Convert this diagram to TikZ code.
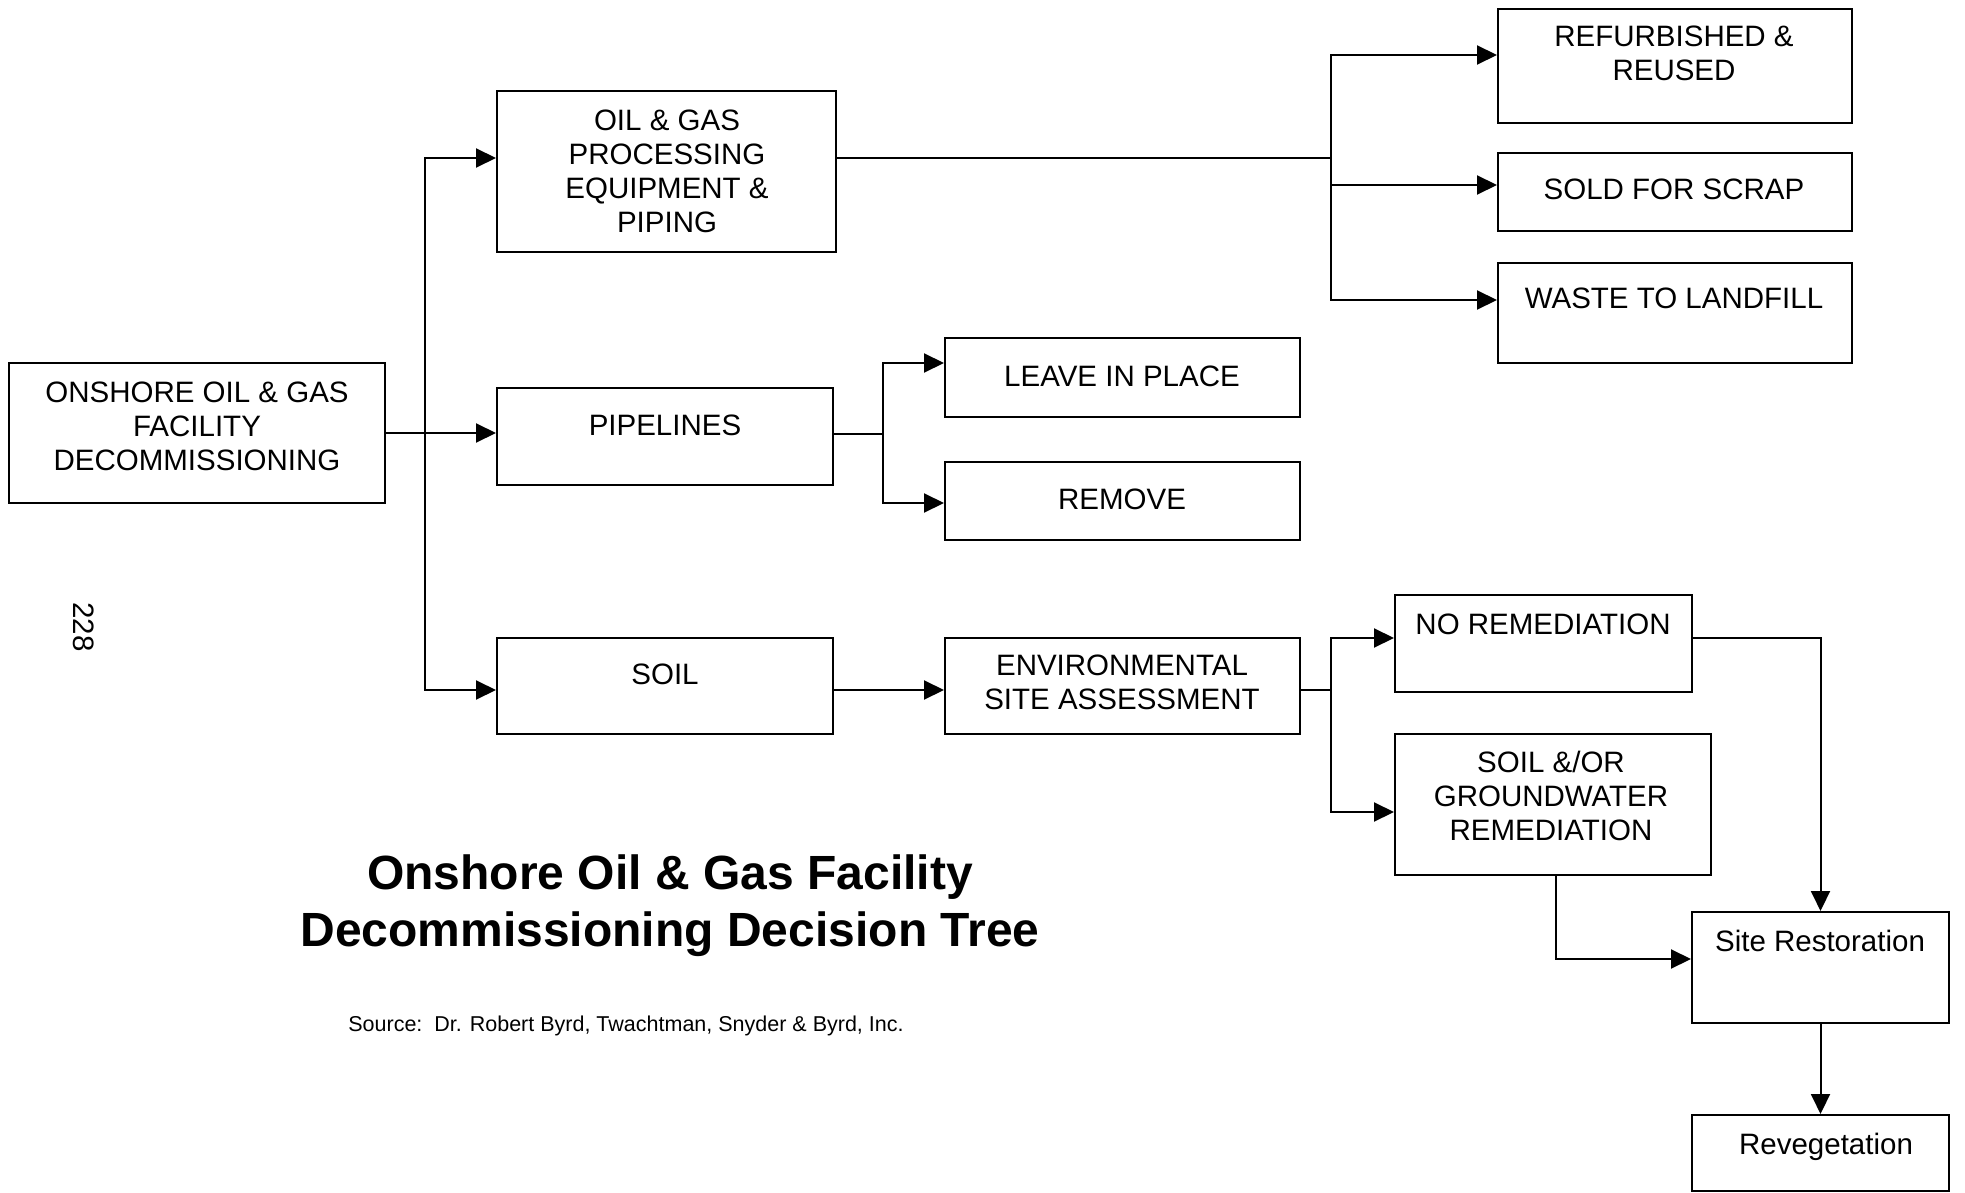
\documentclass[tikz,border=0pt]{standalone}
\usepackage{fontspec}
\setmainfont{Liberation Sans}
\usetikzlibrary{arrows.meta}
\begin{document}
\begin{tikzpicture}[x=1pt,y=-1pt,
  box/.style={draw, line width=2pt, inner sep=0pt},
  txt/.style={font=\fontsize{29.5}{34}\selectfont, align=center, inner sep=0pt},
  line/.style={line width=2pt},
  arr/.style={line width=2pt, -{Triangle[length=20pt,width=19pt]}}]
\useasboundingbox (0,0) rectangle (1965,1193);

% boxes
\node[box, minimum width=376pt, minimum height=140pt] (root) at (197,433) {};
\node[box, minimum width=339pt, minimum height=161pt] (og) at (666.5,171.5) {};
\node[box, minimum width=336pt, minimum height=97pt] (pipe) at (665,436.5) {};
\node[box, minimum width=336pt, minimum height=96pt] (soil) at (665,686) {};
\node[box, minimum width=355pt, minimum height=79pt] (leave) at (1122.5,377.5) {};
\node[box, minimum width=355pt, minimum height=78pt] (remove) at (1122.5,501) {};
\node[box, minimum width=355pt, minimum height=96pt] (esa) at (1122.5,686) {};
\node[box, minimum width=297pt, minimum height=97pt] (norem) at (1543.5,643.5) {};
\node[box, minimum width=316pt, minimum height=141pt] (sgw) at (1553,804.5) {};
\node[box, minimum width=257pt, minimum height=111pt] (site) at (1820.5,967.5) {};
\node[box, minimum width=257pt, minimum height=76pt] (reveg) at (1820.5,1153) {};
\node[box, minimum width=354pt, minimum height=114pt] (refurb) at (1675,66) {};
\node[box, minimum width=354pt, minimum height=78pt] (sold) at (1675,192) {};
\node[box, minimum width=354pt, minimum height=100pt] (waste) at (1675,313) {};

% texts
\node[txt] (root-t) at (197,426) {ONSHORE OIL \& GAS\\FACILITY\\DECOMMISSIONING};
\node[txt] (og-t) at (667,171) {OIL \& GAS\\PROCESSING\\EQUIPMENT \&\\PIPING};
\node[txt] (pipe-t) at (665,425) {PIPELINES};
\node[txt] (soil-t) at (665,674) {SOIL};
\node[txt] (leave-t) at (1122,376) {LEAVE IN PLACE};
\node[txt] (remove-t) at (1122,499) {REMOVE};
\node[txt] (esa-t) at (1122,682) {ENVIRONMENTAL\\SITE ASSESSMENT};
\node[txt] (norem-t) at (1543,624) {NO REMEDIATION};
\node[txt] (sgw-t) at (1551,796) {SOIL \&/OR\\GROUNDWATER\\REMEDIATION};
\node[txt] (site-t) at (1820,941) {Site Restoration};
\node[txt] (reveg-t) at (1826,1147) {Revegetation};
\node[txt] (refurb-t) at (1674,53) {REFURBISHED \&\\REUSED};
\node[txt] (sold-t) at (1674,189) {SOLD FOR SCRAP};
\node[txt] (waste-t) at (1674,298) {WASTE TO LANDFILL};

% junctions
\coordinate (j1) at (425,433);
\coordinate (j2) at (1331,158);
\coordinate (j3) at (883,434);
\coordinate (j4) at (1331,690);

% connectors
\draw[line] (root.east) -- (j1);
\draw[arr] (j1) |- ([yshift=13.5pt]og.west);
\draw[arr] (j1) |- ([yshift=3.5pt]pipe.west);
\draw[arr] (j1) |- ([yshift=-4pt]soil.west);

\draw[line] ([yshift=13.5pt]og.east) -- (j2);
\draw[arr] (j2) |- ([yshift=11pt]refurb.west);
\draw[arr] (j2) |- ([yshift=7pt]sold.west);
\draw[arr] (j2) |- ([yshift=13pt]waste.west);

\draw[line] ([yshift=2.5pt]pipe.east) -- (j3);
\draw[arr] (j3) |- ([yshift=14.5pt]leave.west);
\draw[arr] (j3) |- ([yshift=-2pt]remove.west);

\draw[arr] ([yshift=-4pt]soil.east) -- ([yshift=-4pt]esa.west);

\draw[line] ([yshift=-4pt]esa.east) -- (j4);
\draw[arr] (j4) |- ([yshift=5.5pt]norem.west);
\draw[arr] (j4) |- ([yshift=-7.5pt]sgw.west);

\draw[arr] ([yshift=5.5pt]norem.east) -| (site.north);
\draw[arr] ([xshift=3pt]sgw.south) |- ([yshift=8.5pt]site.west);
\draw[arr] (site.south) -- (reveg.north);

% title and notes
\node[font=\fontsize{48}{57}\selectfont\bfseries, anchor=base, inner sep=0pt] (title1) at (670,889) {Onshore Oil \& Gas Facility};
\node[font=\fontsize{48}{57}\selectfont\bfseries, anchor=base, inner sep=0pt] (title2) at (670,946) {Decommissioning Decision Tree};
\node[font=\fontsize{21.5}{25}\selectfont, anchor=base, inner sep=0pt] (source) at (626,1031) {Source:\ \ Dr. Robert Byrd, Twachtman, Snyder \& Byrd, Inc.};
\node[font=\fontsize{29.5}{34}\selectfont, rotate=-90, inner sep=0pt] (page) at (84,627) {228};
\end{tikzpicture}
\end{document}
